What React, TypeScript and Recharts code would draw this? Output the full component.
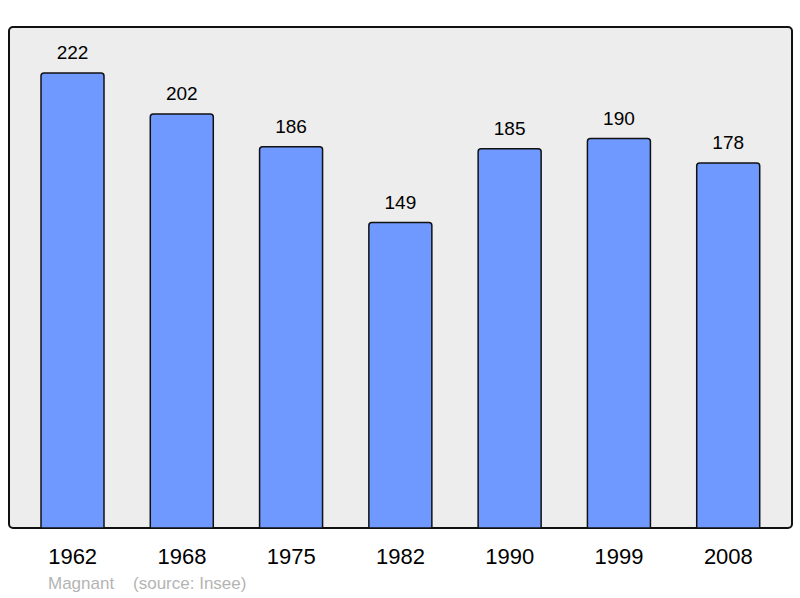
import { BarChart, Bar, XAxis, YAxis, CartesianGrid, LabelList } from "recharts"

const years = ["1962", "1968", "1975", "1982", "1990", "1999", "2008"]
const population = [222, 202, 186, 149, 185, 190, 178]

const data = years.map((year, i) => ({ year, population: population[i] }))

const FONT = '"Liberation Sans", Arial, sans-serif'

export default function App() {
  return (
    <div style={{ position: "absolute", left: 0, top: 0, width: 800, height: 598, background: "#fff", fontFamily: FONT }}>
      <div
        style={{
          position: "absolute",
          left: 8,
          top: 26,
          width: 781,
          height: 499,
          border: "2px solid #111",
          borderRadius: 5,
          background: "#ededed",
        }}
      />
      <BarChart
        width={800}
        height={598}
        data={data}
        margin={{ top: 27, right: 8, bottom: 10, left: 9 }}
        style={{ position: "absolute", left: 0, top: 0 }}
      >
        <CartesianGrid horizontal={false} vertical={false} />
        <XAxis
          dataKey="year"
          height={60}
          axisLine={false}
          tickLine={false}
          padding={{ left: 9, right: 9 }}
          tick={{ fill: "#000", fontSize: 22, fontFamily: FONT }}
          tickMargin={14}
        />
        <YAxis hide domain={[0, 244.4]} />
        <Bar
          dataKey="population"
          fill="#7099ff"
          stroke="#111"
          strokeWidth={1.5}
          barSize={63}
          radius={[3, 3, 0, 0]}
          isAnimationActive={false}
        >
          <LabelList dataKey="population" position="top" offset={14} fill="#000" fontSize={19} fontFamily={FONT} />
        </Bar>
      </BarChart>
      <div style={{ position: "absolute", left: 48, top: 574, fontSize: 17, color: "#b4b4b4", whiteSpace: "pre" }}>
        {"Magnant    (source: Insee)"}
      </div>
    </div>
  )
}
